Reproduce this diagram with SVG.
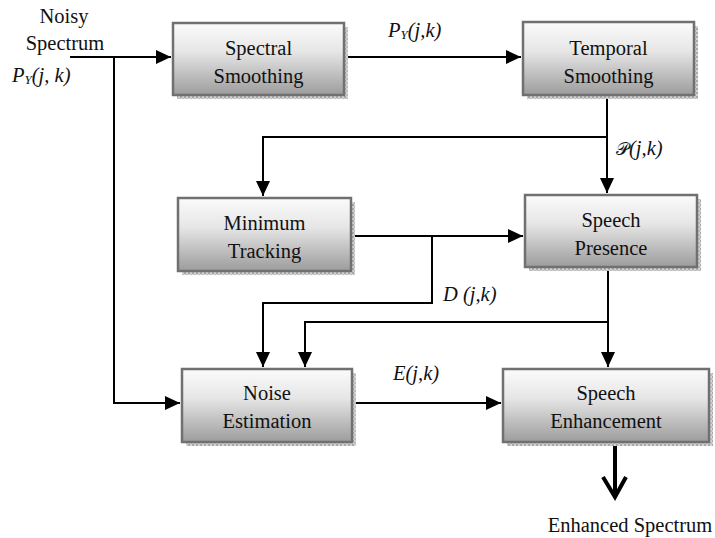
<svg xmlns="http://www.w3.org/2000/svg" width="715" height="538" viewBox="0 0 715 538" font-family="'Liberation Serif', 'Times New Roman', 'DejaVu Serif', serif">
<style>
.t{font-family:'Liberation Serif','Times New Roman','DejaVu Serif',serif;font-size:20.5px;fill:#111;text-anchor:middle}
.i{font-family:'Liberation Serif','Times New Roman','DejaVu Serif',serif;font-size:20.5px;font-style:italic;fill:#111}
.box{fill:url(#g);stroke:#707070;stroke-width:2.5}
.sh{fill:url(#p)}
.c{fill:none;stroke:#000;stroke-width:2}
</style>
<defs>
<linearGradient id="g" x1="0" y1="0" x2="0" y2="1">
<stop offset="0" stop-color="#fbfbfb"/>
<stop offset="0.4" stop-color="#e6e6e6"/>
<stop offset="1" stop-color="#9c9c9c"/>
</linearGradient>
<pattern id="p" width="4" height="4" patternUnits="userSpaceOnUse">
<rect width="4" height="4" fill="#d4d4d4"/>
<rect width="2" height="2" fill="#a8a8a8"/>
<rect x="2" y="2" width="2" height="2" fill="#bdbdbd"/>
</pattern>
<marker id="a" markerUnits="userSpaceOnUse" markerWidth="16" markerHeight="14" refX="15" refY="7" orient="auto">
<path d="M0,0 L15,7 L0,14 z" fill="#000"/>
</marker>
</defs>

<g id="connectors">
<path class="c" d="M70,57 H171" marker-end="url(#a)"/>
<path class="c" d="M114,57 V403 H180" marker-end="url(#a)"/>
<path class="c" d="M344,57 H521" marker-end="url(#a)"/>
<path class="c" d="M607,95 V193" marker-end="url(#a)"/>
<path class="c" d="M607,137 H263 V196" marker-end="url(#a)"/>
<path class="c" d="M351,236 H523" marker-end="url(#a)"/>
<path class="c" d="M432,236 V303 H263 V367" marker-end="url(#a)"/>
<path class="c" d="M608,267 V367" marker-end="url(#a)"/>
<path class="c" d="M608,322 H305 V367" marker-end="url(#a)"/>
<path class="c" d="M352,403 H501" marker-end="url(#a)"/>
<path d="M615,442 V496" fill="none" stroke="#000" stroke-width="4"/>
<path d="M603,477 L615,497 L626,477" fill="none" stroke="#000" stroke-width="4" stroke-linejoin="miter"/>
</g>

<g id="spectral-smoothing">
<rect class="sh" x="177" y="27" width="171" height="72"/>
<rect class="box" x="173" y="23" width="171" height="72"/>
<text class="t" x="258.5" y="55">Spectral</text>
<text class="t" x="258.5" y="83">Smoothing</text>
</g>

<g id="temporal-smoothing">
<rect class="sh" x="527" y="26" width="171" height="73"/>
<rect class="box" x="523" y="22" width="171" height="73"/>
<text class="t" x="608.5" y="55">Temporal</text>
<text class="t" x="608.5" y="83">Smoothing</text>
</g>

<g id="minimum-tracking">
<rect class="sh" x="182" y="202" width="173" height="73"/>
<rect class="box" x="178" y="198" width="173" height="73"/>
<text class="t" x="264.5" y="230">Minimum</text>
<text class="t" x="264.5" y="258">Tracking</text>
</g>

<g id="speech-presence">
<rect class="sh" x="529" y="199" width="172" height="72"/>
<rect class="box" x="525" y="195" width="172" height="72"/>
<text class="t" x="611" y="227">Speech</text>
<text class="t" x="611" y="255">Presence</text>
</g>

<g id="noise-estimation">
<rect class="sh" x="186" y="373" width="170" height="73"/>
<rect class="box" x="182" y="369" width="170" height="73"/>
<text class="t" x="267" y="400">Noise</text>
<text class="t" x="267" y="428">Estimation</text>
</g>

<g id="speech-enhancement">
<rect class="sh" x="507" y="373" width="206" height="73"/>
<rect class="box" x="503" y="369" width="206" height="73"/>
<text class="t" x="606" y="400">Speech</text>
<text class="t" x="606" y="428">Enhancement</text>
</g>

<g id="labels">
<text class="t" x="64" y="23">Noisy</text>
<text class="t" x="65" y="50">Spectrum</text>
<text class="i" x="12" y="82">P<tspan font-size="13" dy="2">Y</tspan><tspan dy="-2">(j, k)</tspan></text>
<text class="i" x="388" y="37">P<tspan font-size="13" dy="2">Y</tspan><tspan dy="-2">(j,k)</tspan></text>
<text class="i" x="616" y="155"><tspan font-family="'DejaVu Serif', 'DejaVu Sans', serif" font-style="normal" font-size="18">𝒫</tspan>(j,k)</text>
<text class="i" x="443" y="301">D (j,k)</text>
<text class="i" x="393" y="380">E(j,k)</text>
<text class="t" x="630" y="532">Enhanced Spectrum</text>
</g>
</svg>
